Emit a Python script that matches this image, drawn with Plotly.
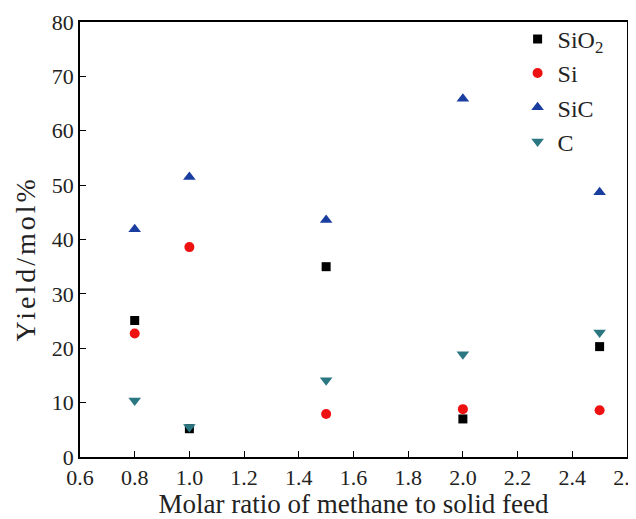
import plotly.graph_objects as go

x_ratio = [0.8, 1.0, 1.5, 2.0, 2.5]
sio2 = [25.1, 5.2, 35.0, 7.0, 20.3]
si = [22.7, 38.6, 7.9, 8.8, 8.6]
sic = [41.9, 51.5, 43.6, 65.9, 48.7]
c = [10.4, 5.5, 14.1, 18.9, 22.9]
x_ticks = [0.6, 0.8, 1.0, 1.2, 1.4, 1.6, 1.8, 2.0, 2.2, 2.4, 2.6]
y_ticks = [0, 10, 20, 30, 40, 50, 60, 70, 80]

font = "'Liberation Serif', 'Times New Roman', serif"
fig = go.Figure()
series = [
    ("SiO<sub>2</sub>", sio2, "square", "#000000", 9),
    ("Si", si, "circle", "#ee1111", 10),
    ("SiC", sic, "triangle-up", "#1a3ea0", 11),
    ("C", c, "triangle-down", "#2a7782", 11),
]
for name, vals, sym, col, sz in series:
    fig.add_trace(go.Scatter(x=x_ratio, y=vals, mode="markers", name=name,
                             marker=dict(symbol=sym, color=col, size=sz)))

axis_common = dict(showline=True, linecolor="black", linewidth=1.5, mirror=True,
                   ticks="inside", ticklen=6, tickcolor="black", showgrid=False,
                   zeroline=False, automargin=False, ticklabeloverflow="allow",
                   tickfont=dict(family=font, size=22, color="#222"))
fig.update_xaxes(range=[0.6, 2.6001], tickvals=x_ticks,
                 ticktext=[f"{v:.1f}" for v in x_ticks],
                 title=dict(text="Molar ratio of methane to solid feed",
                            font=dict(family=font, size=27, color="#222"), standoff=4),
                 **axis_common)
fig.update_yaxes(range=[0, 80], tickvals=y_ticks, **axis_common)
fig.add_annotation(text="<span style='letter-spacing:3px'>Yield/mol%</span>",
                   xref="paper", yref="paper", x=-0.1, y=0.455,
                   xanchor="center", yanchor="middle", textangle=-90, showarrow=False,
                   font=dict(family=font, size=28, color="#222"))
fig.update_layout(
    width=628, height=511,
    margin=dict(l=72, r=9, t=12, b=62),
    plot_bgcolor="white", paper_bgcolor="white",
    legend=dict(x=0.80, y=1.012, xanchor="left", yanchor="top",
                font=dict(family=font, size=24, color="#222"),
                bgcolor="rgba(0,0,0,0)", tracegroupgap=2, itemwidth=30),
)
fig.write_html("out.html")
